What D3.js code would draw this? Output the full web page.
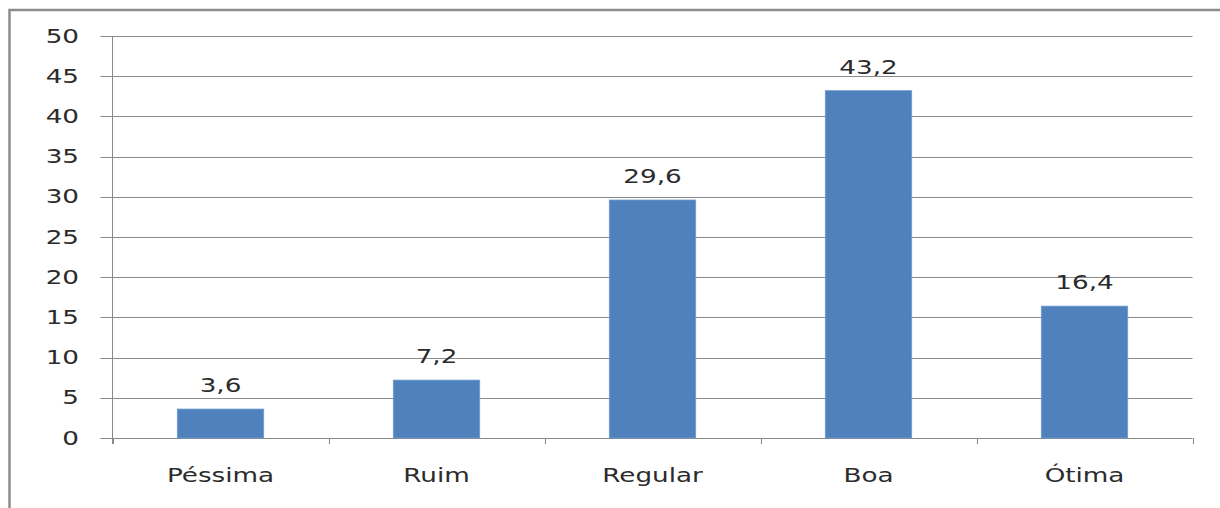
<!DOCTYPE html>
<html>
<head>
<meta charset="utf-8">
<script src="https://cdn.jsdelivr.net/npm/d3@7/dist/d3.min.js"></script>
<style>
  html, body { margin: 0; padding: 0; background: #fff; }
  svg { display: block; }
  text { font-family: "DejaVu Sans", Verdana, sans-serif; fill: #2b2b2b; }
</style>
</head>
<body>
<svg id="chart" width="1220" height="508"></svg>
<script>
// Rating categories and their percentages
const categories = ["Péssima", "Ruim", "Regular", "Boa", "Ótima"];
const values = [3.6, 7.2, 29.6, 43.2, 16.4];
const yTicks = [0, 5, 10, 15, 20, 25, 30, 35, 40, 45, 50];

const W = 1220, H = 508;
const plot = { left: 112.5, right: 1192.5, top: 36, bottom: 438 };
const textStretch = 1.38;   // wide lettering of the labels
const fontSize = 19;
const fmt = v => String(v).replace(".", ",");

const svg = d3.select("#chart");

// outer frame (runs off the right and bottom edges)
svg.append("rect")
  .attr("x", 9.5).attr("y", 10)
  .attr("width", W + 20).attr("height", H + 20)
  .attr("fill", "none")
  .attr("stroke", "#8c8c8c")
  .attr("stroke-width", 2.5);

const x = d3.scaleBand()
  .domain(categories)
  .range([plot.left, plot.right])
  .paddingInner(0.6)
  .paddingOuter(0.3);

const y = d3.scaleLinear()
  .domain([0, 50])
  .range([plot.bottom, plot.top]);

// horizontal gridlines with short ticks to the left
svg.append("g").selectAll("line")
  .data(yTicks)
  .join("line")
  .attr("x1", plot.left - 12)
  .attr("x2", plot.right)
  .attr("y1", d => Math.round(y(d)) + 0.5)
  .attr("y2", d => Math.round(y(d)) + 0.5)
  .attr("stroke", "#8a8a8a")
  .attr("stroke-width", 1);

// vertical axis line
svg.append("line")
  .attr("x1", plot.left).attr("x2", plot.left)
  .attr("y1", y(50)).attr("y2", plot.bottom + 6)
  .attr("stroke", "#8a8a8a");

// category boundary ticks below the baseline
const bounds = d3.range(categories.length + 1)
  .map(i => plot.left + i * (plot.right - plot.left) / categories.length);
svg.append("g").selectAll("line")
  .data(bounds)
  .join("line")
  .attr("x1", d => Math.round(d) + 0.5)
  .attr("x2", d => Math.round(d) + 0.5)
  .attr("y1", plot.bottom)
  .attr("y2", plot.bottom + 6)
  .attr("stroke", "#8a8a8a");

// y tick labels
svg.append("g").selectAll("text")
  .data(yTicks)
  .join("text")
  .attr("transform", d => `translate(79,${y(d)}) scale(${textStretch},1)`)
  .attr("text-anchor", "end")
  .attr("dominant-baseline", "central")
  .attr("font-size", fontSize)
  .text(d => d);

// bars
svg.append("g").selectAll("rect")
  .data(values)
  .join("rect")
  .attr("x", (d, i) => x(categories[i]))
  .attr("width", x.bandwidth())
  .attr("y", d => y(d))
  .attr("height", d => y(0) - y(d))
  .attr("fill", "#4f81bd")
  .attr("stroke", "#6e9ad0")
  .attr("stroke-width", 0.8);

// value labels above bars
svg.append("g").selectAll("text")
  .data(values)
  .join("text")
  .attr("transform", (d, i) => `translate(${x(categories[i]) + x.bandwidth() / 2},${y(d) - 17}) scale(${textStretch},1)`)
  .attr("text-anchor", "middle")
  .attr("font-size", fontSize)
  .text(d => fmt(d));

// category labels
svg.append("g").selectAll("text")
  .data(categories)
  .join("text")
  .attr("transform", d => `translate(${x(d) + x.bandwidth() / 2},482) scale(${textStretch},1)`)
  .attr("text-anchor", "middle")
  .attr("font-size", fontSize)
  .text(d => d);
</script>
</body>
</html>
